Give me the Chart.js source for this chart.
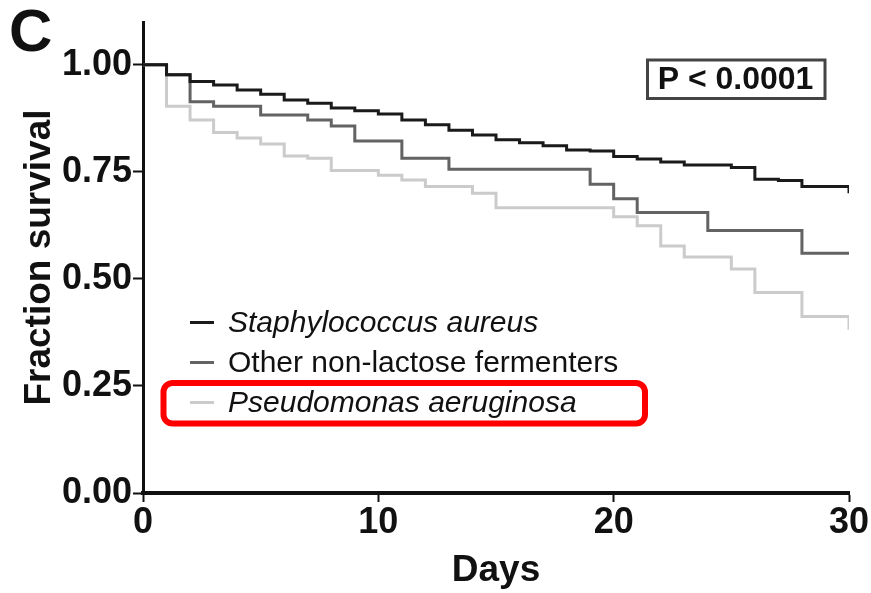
<!DOCTYPE html>
<html>
<head>
<meta charset="utf-8">
<script src="https://cdn.jsdelivr.net/npm/chart.js@4.4.1/dist/chart.umd.min.js"></script>
<style>
  html, body { margin: 0; padding: 0; background: #fff; }
  #wrap { width: 871px; height: 593px; }
</style>
</head>
<body>
<div id="wrap"><canvas id="kmChart" width="871" height="593"></canvas></div>
<script>
// ---------- data ----------
const days = [0, 1, 2, 3, 4, 5, 6, 7, 8, 9, 10, 11, 12, 13, 14, 15,
              16, 17, 18, 19, 20, 21, 22, 23, 24, 25, 26, 27, 28, 29, 30];

const staphSurv = [1.000, 0.977, 0.961, 0.953, 0.941, 0.931, 0.918, 0.910, 0.899, 0.893, 0.885,
                   0.871, 0.860, 0.847, 0.836, 0.825, 0.818, 0.811, 0.801, 0.799, 0.786,
                   0.780, 0.773, 0.766, 0.766, 0.760, 0.733, 0.730, 0.716, 0.716, 0.700];

const otherSurv = [1.000, 0.977, 0.914, 0.903, 0.903, 0.883, 0.883, 0.871, 0.857, 0.822, 0.822,
                   0.782, 0.782, 0.756, 0.756, 0.756, 0.756, 0.756, 0.756, 0.721, 0.687,
                   0.655, 0.655, 0.655, 0.613, 0.613, 0.613, 0.613, 0.560, 0.560, 0.560];

const pseudoSurv = [1.000, 0.903, 0.871, 0.842, 0.829, 0.815, 0.787, 0.782, 0.753, 0.753, 0.742,
                    0.731, 0.716, 0.716, 0.700, 0.666, 0.666, 0.666, 0.666, 0.666, 0.645,
                    0.624, 0.577, 0.551, 0.551, 0.523, 0.468, 0.468, 0.412, 0.412, 0.381];

const seriesLabels = ["Staphylococcus aureus", "Other non-lactose fermenters", "Pseudomonas aeruginosa"];
const seriesItalic = [true, false, true];
const seriesColors = ["#1a1a1a", "#636363", "#cbcbcb"];

const xTicks = [0, 10, 20, 30];
const yTicks = [0, 0.25, 0.5, 0.75, 1.0];
const pValueText = "P < 0.0001";

const FONT = "'Liberation Sans', Arial, Helvetica, sans-serif";
const INK = "#111";

// ---------- helpers ----------
function toPoints(values) {
    return days.map((d, i) => ({ x: d, y: values[i] }));
}

// panel letter, p-value box, legend and red highlight
const annotations = {
    id: "annotations",
    afterDraw(chart) {
        const ctx = chart.ctx;
        ctx.save();

        // panel letter
        ctx.fillStyle = INK;
        ctx.font = "bold 60px " + FONT;
        ctx.textAlign = "left";
        ctx.textBaseline = "alphabetic";
        ctx.fillText("C", 9, 51);

        // p value box
        ctx.strokeStyle = "#444";
        ctx.lineWidth = 3;
        ctx.strokeRect(647.5, 60, 177.5, 38.5);
        ctx.font = "bold 32px " + FONT;
        ctx.textAlign = "center";
        ctx.textBaseline = "middle";
        ctx.fillText(pValueText, 735.5, 80);

        // legend
        ctx.textAlign = "left";
        chart.data.datasets.forEach((ds, i) => {
            const y = 322.5 + i * 40;
            ctx.strokeStyle = ds.borderColor;
            ctx.lineWidth = 3;
            ctx.beginPath();
            ctx.moveTo(190, y);
            ctx.lineTo(214, y);
            ctx.stroke();

            ctx.fillStyle = INK;
            ctx.font = (seriesItalic[i] ? "italic " : "") + "30px " + FONT;
            ctx.fillText(ds.label, 228, y + 1);
        });

        // red highlight round the last legend entry
        ctx.strokeStyle = "#f00";
        ctx.lineWidth = 6;
        ctx.beginPath();
        ctx.roundRect(163.5, 383, 481.5, 40.5, 9);
        ctx.stroke();

        ctx.restore();
    }
};

const ctx = document.getElementById("kmChart");

new Chart(ctx, {
    type: "line",
    data: {
        datasets: [
            { label: seriesLabels[0], data: toPoints(staphSurv), borderColor: seriesColors[0] },
            { label: seriesLabels[1], data: toPoints(otherSurv), borderColor: seriesColors[1] },
            { label: seriesLabels[2], data: toPoints(pseudoSurv), borderColor: seriesColors[2] }
        ]
    },
    options: {
        responsive: false,
        animation: false,
        parsing: false,
        layout: { padding: { top: 22, right: 22, bottom: 0, left: 0 } },
        elements: {
            line: { stepped: true, borderWidth: 3, tension: 0, fill: false },
            point: { radius: 0, hoverRadius: 0 }
        },
        plugins: {
            legend: { display: false },
            tooltip: { enabled: false }
        },
        scales: {
            x: {
                type: "linear",
                min: 0,
                max: 30,
                afterBuildTicks: s => { s.ticks = xTicks.map(v => ({ value: v })); },
                afterFit: s => { s.height = 100; s.paddingLeft = 0; s.paddingRight = 0; },
                ticks: {
                    color: INK,
                    padding: 3,
                    maxRotation: 0,
                    autoSkip: false,
                    font: { family: FONT, size: 36, weight: "bold", lineHeight: 1 }
                },
                grid: {
                    drawOnChartArea: false,
                    drawTicks: true,
                    tickLength: 9,
                    tickWidth: 2,
                    tickColor: INK
                },
                border: { display: true, color: INK, width: 4 },
                title: {
                    display: true,
                    text: "Days",
                    color: INK,
                    padding: { top: 0, bottom: 4 },
                    font: { family: FONT, size: 37, weight: "bold", lineHeight: 1 }
                }
            },
            y: {
                type: "linear",
                min: 0,
                max: 1.1,
                afterBuildTicks: s => { s.ticks = yTicks.map(v => ({ value: v })); },
                afterFit: s => { s.width = 143; s.paddingTop = 0; s.paddingBottom = 0; },
                ticks: {
                    color: INK,
                    padding: 1,
                    autoSkip: false,
                    callback: v => Number(v).toFixed(2),
                    font: { family: FONT, size: 36, weight: "bold", lineHeight: 1 }
                },
                grid: {
                    drawOnChartArea: false,
                    drawTicks: true,
                    tickLength: 10,
                    tickWidth: 2,
                    tickColor: INK
                },
                border: { display: true, color: INK, width: 3 },
                title: {
                    display: true,
                    text: "Fraction survival",
                    color: INK,
                    padding: { top: 21, bottom: 0 },
                    font: { family: FONT, size: 37, weight: "bold", lineHeight: 1 }
                }
            }
        }
    },
    plugins: [annotations]
});
</script>
</body>
</html>
